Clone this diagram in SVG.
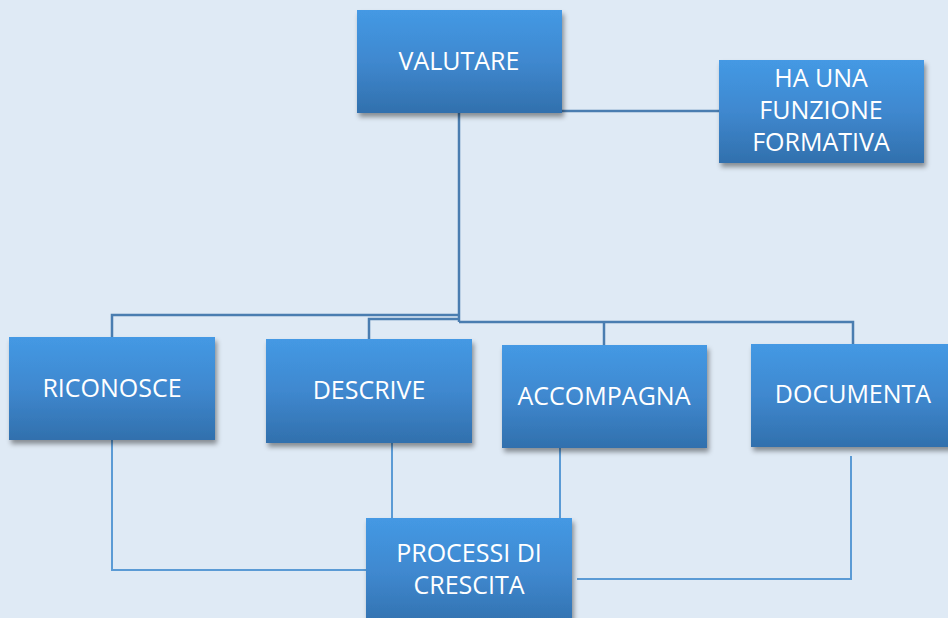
<svg xmlns="http://www.w3.org/2000/svg" width="948" height="618" viewBox="0 0 948 618">
<defs>
<linearGradient id="g" x1="0" y1="0" x2="0" y2="1">
<stop offset="0" stop-color="#4499e4"/>
<stop offset="0.5" stop-color="#3f88cf"/>
<stop offset="1" stop-color="#3170ad"/>
</linearGradient>
<filter id="sh" x="-10%" y="-10%" width="130%" height="140%">
<feDropShadow dx="2" dy="4" stdDeviation="2.5" flood-color="#000" flood-opacity="0.4"/>
</filter>
</defs>
<style>
.box{fill:url(#g);filter:url(#sh)}
.t{font-family:"Open Sans","Liberation Sans",sans-serif;font-size:25px;fill:#fff;text-anchor:middle}
.c1{stroke:#4a7db0;stroke-width:2.5;fill:none}
.c2{stroke:#5b9bd5;stroke-width:2;fill:none}
</style>
<rect width="948" height="618" fill="#dfeaf5"/>
<g id="connectors">
<path class="c1" d="M562 111 H719"/>
<path class="c1" d="M459 113 V322"/>
<path class="c1" d="M112 337 V315 H459"/>
<path class="c1" d="M369 339 V319 H459"/>
<path class="c1" d="M459 322 H853 V344"/>
<path class="c1" d="M604 322 V345"/>
<path class="c2" d="M112 440 V570 H366"/>
<path class="c2" d="M392 443 V518"/>
<path class="c2" d="M560 448 V518"/>
<path class="c2" d="M851 456 V579 H577"/>
</g>
<g id="valutare">
<rect class="box" x="357" y="10" width="205" height="103"/>
<text class="t" x="459" y="70">VALUTARE</text>
</g>
<g id="funzione">
<rect class="box" x="719" y="60" width="205" height="103"/>
<text class="t" x="821" y="87">HA UNA</text>
<text class="t" x="821" y="119">FUNZIONE</text>
<text class="t" x="821" y="151">FORMATIVA</text>
</g>
<g id="riconosce">
<rect class="box" x="9" y="337" width="206" height="103"/>
<text class="t" x="112" y="397">RICONOSCE</text>
</g>
<g id="descrive">
<rect class="box" x="266" y="339" width="206" height="104"/>
<text class="t" x="369" y="399">DESCRIVE</text>
</g>
<g id="accompagna">
<rect class="box" x="502" y="345" width="205" height="103"/>
<text class="t" x="604" y="405">ACCOMPAGNA</text>
</g>
<g id="documenta">
<rect class="box" x="751" y="344" width="205" height="103"/>
<text class="t" x="853" y="403">DOCUMENTA</text>
</g>
<g id="processi">
<rect class="box" x="366" y="518" width="206" height="110"/>
<text class="t" x="469" y="562">PROCESSI DI</text>
<text class="t" x="469" y="594">CRESCITA</text>
</g>
</svg>
